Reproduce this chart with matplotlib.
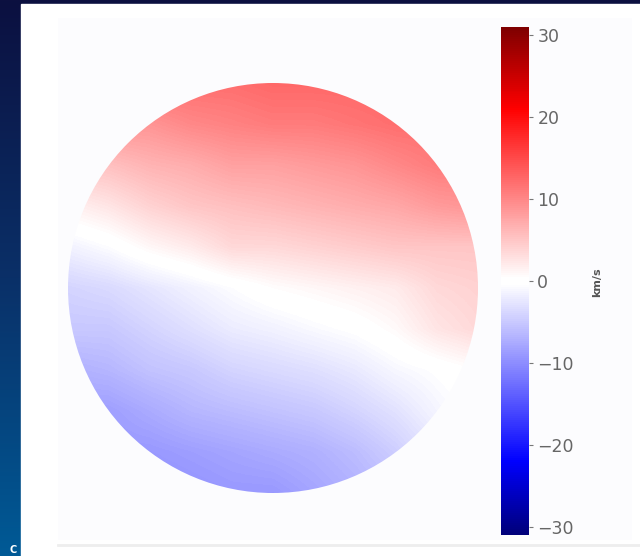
import numpy as np
import matplotlib
matplotlib.use("Agg")
import matplotlib.pyplot as plt
from matplotlib.colors import LinearSegmentedColormap, Normalize
from matplotlib.cm import ScalarMappable
from matplotlib.patches import Circle

W, H = 640, 556

# velocity, top row first, left to right (km/s)
row_1 = [12, 12, 12, 12, 12, 12.5, 12.5, 12.5, 12.5, 12.5, 12.5]
row_2 = [9, 9, 9, 10, 10.5, 11, 11, 11.5, 12, 12, 12]
row_3 = [5, 5.5, 6.5, 7, 8, 8, 8.5, 9, 10, 11, 11]
row_4 = [1.5, 2.5, 4, 5, 5.5, 6, 6.5, 7, 7.5, 8.5, 9]
row_5 = [-1.5, -0.5, 1, 2, 3.5, 3.5, 4, 4.5, 5, 5, 5]
row_6 = [-4, -3.5, -2.5, -1.5, -0.5, 0.5, 1, 1.5, 2, 3.5, 4]
row_7 = [-5, -5, -4, -3, -2, -1.5, -0.8, -0.2, 0.8, 2.5, 3.5]
row_8 = [-7, -6.5, -5.5, -5, -4, -3.5, -3, -2.2, -1, -0.3, 0.5]
row_9 = [-8.5, -8.5, -7.5, -6.5, -6, -5.5, -5, -4, -2.8, -1.2, 0]
row_10 = [-9, -9, -9, -8.5, -8, -7.5, -7, -6, -4.5, -2.5, -1]
row_11 = [-10, -10, -10, -9.5, -9, -9, -8, -7, -6, -4, -2]
velocity = np.array([row_1, row_2, row_3, row_4, row_5, row_6,
                     row_7, row_8, row_9, row_10, row_11])

cbar_ticks = [-30, -20, -10, 0, 10, 20, 30]
vmin, vmax = -31, 31


def px_axes(fig, x0, y0, x1, y1):
    # axes from pixel box, y counted from the top
    return fig.add_axes([x0 / W, 1 - y1 / H, (x1 - x0) / W, (y1 - y0) / H])


def pos(v):
    return (v - vmin) / (vmax - vmin)


cmap = LinearSegmentedColormap.from_list("vel", [
    (0.0, "#00007a"),
    (pos(-22), "#0000ff"),
    (pos(-0.4), "#ffffff"),
    (pos(0.4), "#ffffff"),
    (pos(21), "#ff0000"),
    (1.0, "#7f0000"),
])
norm = Normalize(vmin, vmax)

fig = plt.figure(figsize=(W / 100, H / 100), dpi=100)
fig.patch.set_facecolor("white")

# slide background, dark navy at the top to blue at the bottom
bg = px_axes(fig, 0, 0, W, H)
bg_cmap = LinearSegmentedColormap.from_list("bg", ["#0c1040", "#0a3068", "#005a96"])
bg.imshow(np.linspace(0, 1, 256).reshape(-1, 1), cmap=bg_cmap, aspect="auto",
          extent=[0, W, H, 0])
bg.add_patch(plt.Rectangle((21, 4), W - 21, H - 4, color="white", zorder=2))
bg.add_patch(plt.Rectangle((58, 18), 574, 522, color="#fcfcfe", lw=0, zorder=3))
bg.plot([58, 640], [545, 545], color="#eeeeee", lw=2, zorder=3)
bg.set_xlim(0, W)
bg.set_ylim(H, 0)
bg.axis("off")

# velocity disk
ax = px_axes(fig, 68, 83, 478, 493)
ax.patch.set_alpha(0)
im = ax.imshow(velocity, cmap=cmap, norm=norm, interpolation="bilinear",
               extent=[-1.1, 1.1, -1.1, 1.1], origin="upper")
im.set_clip_path(Circle((0, 0), 1, transform=ax.transData))
ax.set_xlim(-1, 1)
ax.set_ylim(-1, 1)
ax.axis("off")

# colorbar
cax = px_axes(fig, 501, 27, 529, 535)
cb = fig.colorbar(ScalarMappable(norm=norm, cmap=cmap), cax=cax, ticks=cbar_ticks)
cb.outline.set_visible(False)
cb.ax.tick_params(length=3, width=0.8, color="#777777", labelcolor="#666666",
                  labelsize=12.5, pad=3)
fig.text(597 / W, 1 - 282 / H, "km/s", rotation=90, ha="center", va="center",
         fontsize=8, fontweight="bold", color="#555555")

# bit of the next slide letter at the lower edge
fig.text(9 / W, 1 / H, "C", color="white", fontsize=7, fontweight="bold",
         va="bottom")

fig.savefig("out.png", dpi=100)
